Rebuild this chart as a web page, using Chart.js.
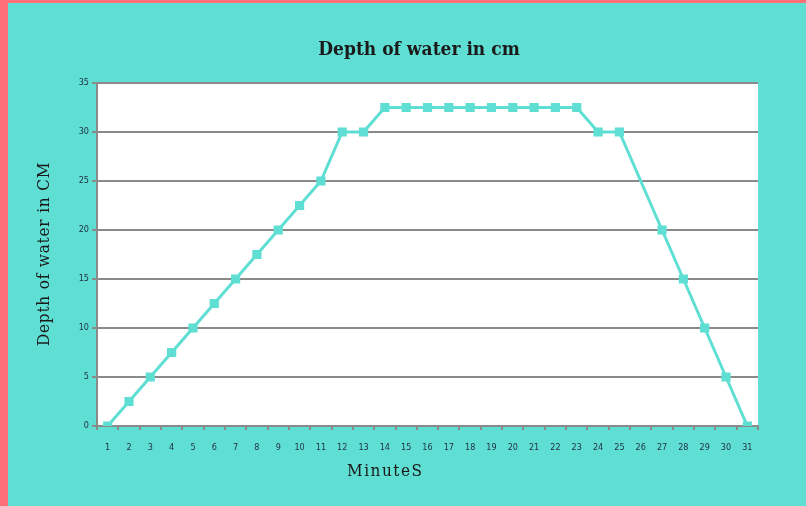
<!DOCTYPE html>
<html>
<head>
<meta charset="utf-8">
<script src="https://cdn.jsdelivr.net/npm/chart.js@4"></script>
<style>
  html, body { margin: 0; padding: 0; }
  body {
    width: 806px; height: 506px; overflow: hidden;
    background: #5fded4;
    position: relative;
  }
  #pinkLeft { position: absolute; left: 0; top: 0; width: 8px; height: 506px; background: #ff6f78; }
  #pinkTop { position: absolute; left: 0; top: 0; width: 806px; height: 3px; background: #ff6f78; }
  #wrap { position: absolute; left: 0; top: 0; width: 806px; height: 506px; }
</style>
</head>
<body>
<div id="pinkLeft"></div>
<div id="pinkTop"></div>
<div id="wrap"><canvas id="myChart" width="806" height="506"></canvas></div>
<script>
const minutes = ["1", "2", "3", "4", "5", "6", "7", "8", "9", "10", "11", "12", "13", "14", "15", "16",
  "17", "18", "19", "20", "21", "22", "23", "24", "25", "26", "27", "28", "29", "30", "31"];

// minute 26 has no reading, the line runs straight from 25 to 27
const depth = [0, 2.5, 5, 7.5, 10, 12.5, 15, 17.5, 20, 22.5, 25, 30, 30,
  32.5, 32.5, 32.5, 32.5, 32.5, 32.5, 32.5, 32.5, 32.5, 32.5,
  30, 30, null, 20, 15, 10, 5, 0];

const yTicks = [0, 5, 10, 15, 20, 25, 30, 35];

const chartTitle = "Depth of water in cm";
const xTitle = "MinuteS";
const yTitle = "Depth of water in CM";

const teal = "#5fded4";
const gridGray = "#8a8a8a";
const handFont = "'DejaVu Serif Condensed', 'DejaVu Serif', serif";

const ctx = document.getElementById("myChart").getContext("2d");

// white plot area and the three hand-lettered labels
const decor = {
  id: "decor",
  beforeDraw(chart) {
    const { ctx, chartArea } = chart;
    ctx.save();
    ctx.fillStyle = "#ffffff";
    ctx.fillRect(chartArea.left, chartArea.top, chartArea.right - chartArea.left, chartArea.bottom - chartArea.top);
    ctx.restore();
  },
  afterDraw(chart) {
    const { ctx, chartArea } = chart;
    ctx.save();
    ctx.fillStyle = "#1a1a1a";
    ctx.textAlign = "center";
    ctx.textBaseline = "middle";

    ctx.font = "bold 19px " + handFont;
    ctx.fillText(chartTitle, 419, 50);

    ctx.font = "17px " + handFont;
    ctx.letterSpacing = "1.5px";
    ctx.fillText(xTitle, chartArea.left + (chartArea.right - chartArea.left) * 0.436, 472);

    ctx.letterSpacing = "0.8px";
    ctx.translate(45, 254);
    ctx.rotate(-Math.PI / 2);
    ctx.fillText(yTitle, 0, 0);
    ctx.restore();
  },
};

const myChart = new Chart(ctx, {
  type: "line",
  data: {
    labels: minutes,
    datasets: [
      {
        label: "Depth",
        data: depth,
        borderColor: teal,
        backgroundColor: teal,
        borderWidth: 3,
        pointStyle: "rect",
        pointRadius: 6.5,
        pointHoverRadius: 6.5,
        pointBorderWidth: 0,
        spanGaps: true,
        tension: 0,
      },
    ],
  },
  options: {
    responsive: false,
    animation: false,
    events: [],
    layout: {
      padding: { left: 0, right: 48, top: 83, bottom: 0 },
    },
    plugins: {
      legend: { display: false },
      title: { display: false },
      tooltip: { enabled: false },
    },
    scales: {
      x: {
        offset: true,
        grid: {
          offset: true,
          drawOnChartArea: false,
          drawTicks: true,
          tickLength: 4,
          color: gridGray,
          lineWidth: 2,
        },
        border: { display: true, color: gridGray, width: 2 },
        ticks: {
          autoSkip: false,
          maxRotation: 0,
          padding: 12,
          color: "#223344",
          font: { family: "'DejaVu Sans Condensed', 'DejaVu Sans'", size: 9 },
        },
        afterFit(scale) {
          scale.height = 80;
        },
      },
      y: {
        min: 0,
        max: 35,
        afterBuildTicks(scale) {
          scale.ticks = yTicks.map((v) => ({ value: v }));
        },
        grid: {
          color: gridGray,
          lineWidth: 2,
          tickLength: 5,
        },
        border: { display: true, color: gridGray, width: 2 },
        ticks: {
          padding: 3,
          color: "#223344",
          font: { family: "'DejaVu Sans Condensed', 'DejaVu Sans'", size: 9 },
        },
        afterFit(scale) {
          scale.width = 97;
        },
      },
    },
  },
  plugins: [decor],
});
</script>
</body>
</html>
